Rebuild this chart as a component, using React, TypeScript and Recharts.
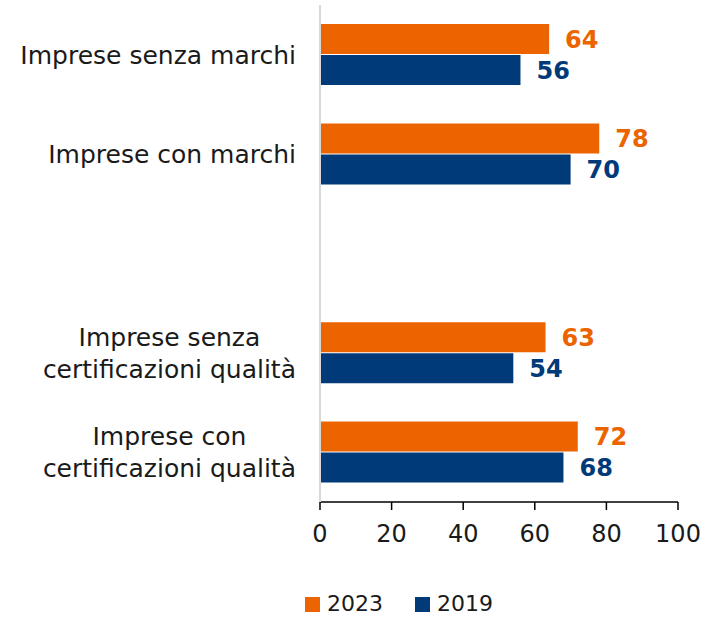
import { Bar, BarChart, LabelList, Legend, XAxis, YAxis } from "recharts";

const categories = [
	"Imprese senza marchi",
	"Imprese con marchi",
	"",
	"Imprese senza\ncertificazioni qualità",
	"Imprese con\ncertificazioni qualità",
];
const values2023 = [64, 78, null, 63, 72];
const values2019 = [56, 70, null, 54, 68];
const xTicks = [0, 20, 40, 60, 80, 100];

const ORANGE = "#EB6400";
const BLUE = "#003A78";
const FONT = "'DejaVu Sans', sans-serif";
const CAT_SIZE = 25;

const data = categories.map((name, i) => ({
	name,
	y2023: values2023[i],
	y2019: values2019[i],
}));

let ctx: CanvasRenderingContext2D | null = null;
const measure = (s: string) => {
	if (!ctx) ctx = document.createElement("canvas").getContext("2d");
	if (!ctx) return s.length * 13;
	ctx.font = `${CAT_SIZE}px 'DejaVu Sans'`;
	return ctx.measureText(s).width;
};

const CategoryTick = (props: any) => {
	const { y, payload } = props;
	const lines: string[] = String(payload.value).split("\n").filter(Boolean);
	if (!lines.length) return null;
	const w = Math.max(...lines.map(measure));
	const cx = 296 - w / 2;
	const lh = 32;
	const top = y - ((lines.length - 1) * lh) / 2;
	return (
		<text
			textAnchor="middle"
			fill="#1a1a1a"
			fontSize={CAT_SIZE}
			fontFamily={FONT}
			dominantBaseline="central"
		>
			{lines.map((l, i) => (
				<tspan key={i} x={cx} y={top + i * lh}>
					{l}
				</tspan>
			))}
		</text>
	);
};

const LegendBox = () => (
	<div
		style={{
			display: "flex",
			gap: 32,
			fontFamily: FONT,
			fontSize: 22,
			lineHeight: "24px",
			color: "#1a1a1a",
			alignItems: "center",
		}}
	>
		{[
			["2023", ORANGE],
			["2019", BLUE],
		].map(([label, color]) => (
			<div key={label} style={{ display: "flex", alignItems: "center", gap: 7 }}>
				<span style={{ width: 15, height: 15, background: color, display: "inline-block" }} />
				<span>{label}</span>
			</div>
		))}
	</div>
);

export default function App() {
	return (
		<div style={{ position: "absolute", left: 0, top: 0, background: "#fff" }}>
			<BarChart
				width={702}
				height={617}
				data={data}
				layout="vertical"
				margin={{ top: 5, right: 24, left: 0, bottom: 41 }}
				barGap={1}
				barCategoryGap={19}
			>
				<XAxis
					type="number"
					domain={[0, 100]}
					ticks={xTicks}
					axisLine={{ stroke: "#000", strokeWidth: 1.5 }}
					tickLine={{ stroke: "#000", strokeWidth: 1.5 }}
					tickSize={8}
					tickMargin={15}
					tick={{ fill: "#1a1a1a", fontSize: 24, fontFamily: FONT }}
					height={50}
					interval={0}
				/>
				<YAxis
					type="category"
					dataKey="name"
					width={320}
					axisLine={{ stroke: "#d9d9d9", strokeWidth: 2 }}
					tickLine={false}
					tick={<CategoryTick />}
					interval={0}
				/>
				<Legend
					content={<LegendBox />}
					wrapperStyle={{ position: "absolute", left: 305, top: 592, width: "auto", height: 24 }}
				/>
				<Bar dataKey="y2023" fill={ORANGE} isAnimationActive={false}>
					<LabelList
						dataKey="y2023"
						position="right"
						offset={16}
						fill={ORANGE}
						fontSize={24}
						fontWeight="bold"
						fontFamily={FONT}
					/>
				</Bar>
				<Bar dataKey="y2019" fill={BLUE} isAnimationActive={false}>
					<LabelList
						dataKey="y2019"
						position="right"
						offset={16}
						fill={BLUE}
						fontSize={24}
						fontWeight="bold"
						fontFamily={FONT}
					/>
				</Bar>
			</BarChart>
		</div>
	);
}
